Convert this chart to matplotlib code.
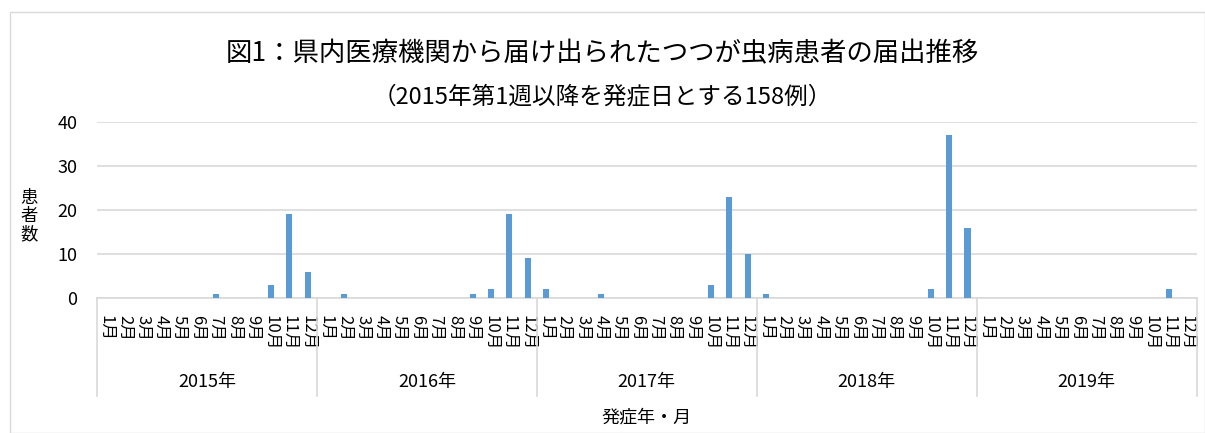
import numpy as np
import matplotlib.pyplot as plt
import matplotlib.transforms as mtransforms
from matplotlib.patches import Rectangle

plt.rcParams['font.family'] = ['Noto Sans CJK JP', 'DejaVu Sans']

# monthly counts by onset month
years = ['2015年', '2016年', '2017年', '2018年', '2019年']
months = [f'{m}月' for m in range(1, 13)]
cases_2015 = [0, 0, 0, 0, 0, 0, 1, 0, 0, 3, 19, 6]
cases_2016 = [0, 1, 0, 0, 0, 0, 0, 0, 1, 2, 19, 9]
cases_2017 = [2, 0, 0, 1, 0, 0, 0, 0, 0, 3, 23, 10]
cases_2018 = [1, 0, 0, 0, 0, 0, 0, 0, 0, 2, 37, 16]
cases_2019 = [0, 0, 0, 0, 0, 0, 0, 0, 0, 0, 2, 0]

counts = cases_2015 + cases_2016 + cases_2017 + cases_2018 + cases_2019
x = np.arange(len(counts))

fig = plt.figure(figsize=(12.05, 4.33), dpi=100)
ax = fig.add_axes([0.0805, 0.312, 0.9125, 0.406])

# outer chart border
fig.patches.append(Rectangle((0.008, 0.0), 0.992, 0.972, transform=fig.transFigure,
                             fill=False, edgecolor='#d9d9d9', linewidth=1))

ax.bar(x, counts, width=0.33, color='#5b9bd5', zorder=3)
ax.set_xlim(-0.5, len(counts) - 0.5)
ax.set_ylim(0, 40)
ax.set_yticks([0, 10, 20, 30, 40])
ax.yaxis.grid(True, color='#d9d9d9', linewidth=1.2, zorder=0)
ax.tick_params(axis='y', length=0, labelsize=13, pad=14)
ax.tick_params(axis='x', length=0, pad=12)
for s in ['top', 'right', 'left']:
    ax.spines[s].set_visible(False)
ax.spines['bottom'].set_color('#d9d9d9')
ax.spines['bottom'].set_linewidth(1.2)

ax.set_xticks(x)
ax.set_xticklabels(months * len(years), rotation=-90, fontsize=12, linespacing=0.9)

# year group separators and labels
trans = ax.get_xaxis_transform()
for i in range(len(years) + 1):
    ax.plot([i * 12 - 0.5] * 2, [0, -0.557], transform=trans, color='#d9d9d9',
            linewidth=1.2, clip_on=False)
for i, yr in enumerate(years):
    ax.text(i * 12 + 5.5, -0.477, yr, transform=trans, ha='center', va='center', fontsize=13)

xl_trans = mtransforms.blended_transform_factory(ax.transAxes, fig.transFigure)
ax.text(0.5, 0.035, '発症年・月', transform=xl_trans, ha='center', va='center', fontsize=13)
fig.text(0.024, 0.5, '患\n者\n数', ha='center', va='center', fontsize=12.5, linespacing=1.0)

fig.text(0.5, 0.875, '図1：県内医療機関から届け出られたつつが虫病患者の届出推移',
         ha='center', va='center', fontsize=19)
fig.text(0.5, 0.777, '（2015年第1週以降を発症日とする158例）',
         ha='center', va='center', fontsize=17)

fig.savefig('out.png', dpi=100)
